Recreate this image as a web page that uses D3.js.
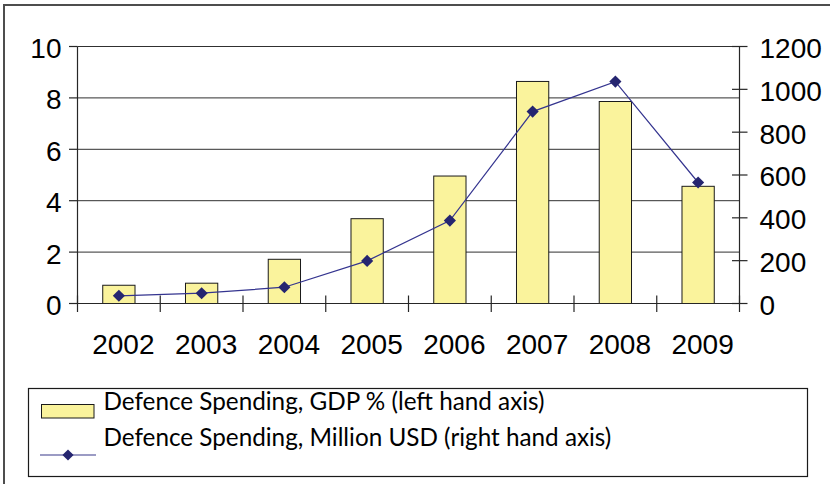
<!DOCTYPE html>
<html>
<head>
<meta charset="utf-8">
<script src="https://cdn.jsdelivr.net/npm/d3@7"></script>
<style>
  html, body { margin: 0; padding: 0; background: #fff; }
  svg { display: block; }
</style>
</head>
<body>
<svg id="chart" width="830" height="484"></svg>
<script>
// Defence spending by year
const years = ["2002", "2003", "2004", "2005", "2006", "2007", "2008", "2009"];
const gdpShare = [0.71, 0.79, 1.72, 3.30, 4.96, 8.64, 7.86, 4.56];          // % of GDP (left axis)
const spendingMusd = [36, 48, 76, 199, 387, 896, 1036, 565];               // million USD (right axis)
const leftTicks = [0, 2, 4, 6, 8, 10];
const rightTicks = [0, 200, 400, 600, 800, 1000, 1200];
const legendLabels = [
  "Defence Spending, GDP % (left hand axis)",
  "Defence Spending, Million USD (right hand axis)"
];

const svg = d3.select("#chart");
const plot = { left: 77.5, right: 739.5, top: 46.5, bottom: 303.5 };

const x = d3.scaleBand().domain(years).range([plot.left, plot.right]).padding(0);
const yL = d3.scaleLinear().domain([0, 10]).range([plot.bottom, plot.top]);
const yR = d3.scaleLinear().domain([0, 1200]).range([plot.bottom, plot.top]);
const barW = x.bandwidth() * 0.39;
const cx = d => x(d) + x.bandwidth() / 2;

const axisFont = "'Liberation Sans', Arial, sans-serif";
const ink = "#262626";

// outer chart frame
svg.append("rect")
  .attr("x", 4).attr("y", 5).attr("width", 1000).attr("height", 1000)
  .attr("fill", "none").attr("stroke", "#4d4d4d").attr("stroke-width", 2);

// horizontal gridlines from the left axis
svg.append("g").selectAll("line").data(leftTicks.filter(t => t > 0)).join("line")
  .attr("x1", plot.left).attr("x2", plot.right)
  .attr("y1", d => yL(d)).attr("y2", d => yL(d))
  .attr("stroke", "#303030").attr("stroke-width", 1);

// bars
svg.append("g").selectAll("rect").data(years).join("rect")
  .attr("x", (d, i) => cx(d) - barW / 2)
  .attr("y", (d, i) => yL(gdpShare[i]))
  .attr("width", barW)
  .attr("height", (d, i) => plot.bottom - yL(gdpShare[i]))
  .attr("fill", "#faf39c")
  .attr("stroke", "#1a1a1a").attr("stroke-width", 1);

// axes lines
const axes = svg.append("g").attr("stroke", ink).attr("stroke-width", 1.2);
axes.append("line").attr("x1", plot.left).attr("x2", plot.left).attr("y1", plot.top).attr("y2", plot.bottom);
axes.append("line").attr("x1", plot.right).attr("x2", plot.right).attr("y1", plot.top).attr("y2", plot.bottom);
axes.append("line").attr("x1", plot.left).attr("x2", plot.right).attr("y1", plot.bottom).attr("y2", plot.bottom);

// left ticks + labels
const gl = svg.append("g");
gl.selectAll("line").data(leftTicks).join("line")
  .attr("x1", plot.left - 8.5).attr("x2", plot.left)
  .attr("y1", d => yL(d)).attr("y2", d => yL(d))
  .attr("stroke", ink).attr("stroke-width", 1.2);
gl.selectAll("text").data(leftTicks).join("text")
  .attr("x", plot.left - 16).attr("y", d => yL(d)).attr("dy", "0.41em")
  .attr("text-anchor", "end")
  .attr("font-family", axisFont).attr("font-size", 28).attr("fill", "#000")
  .text(d => d);

// right ticks + labels
const gr = svg.append("g");
gr.selectAll("line").data(rightTicks).join("line")
  .attr("x1", plot.right - 7.5).attr("x2", plot.right + 8)
  .attr("y1", d => yR(d)).attr("y2", d => yR(d))
  .attr("stroke", ink).attr("stroke-width", 1.2);
gr.selectAll("text").data(rightTicks).join("text")
  .attr("x", plot.right + 20).attr("y", d => yR(d)).attr("dy", "0.41em")
  .attr("text-anchor", "start")
  .attr("font-family", axisFont).attr("font-size", 28).attr("fill", "#000")
  .text(d => d);

// category ticks and year labels
const bounds = years.map(d => x(d)).concat([plot.right]);
svg.append("g").selectAll("line").data(bounds).join("line")
  .attr("x1", d => d).attr("x2", d => d)
  .attr("y1", plot.bottom - 8).attr("y2", plot.bottom + 8.5)
  .attr("stroke", ink).attr("stroke-width", 1.2);
svg.append("g").selectAll("text").data(years).join("text")
  .attr("x", d => cx(d) + 4.5).attr("y", plot.bottom + 50)
  .attr("text-anchor", "middle")
  .attr("font-family", axisFont).attr("font-size", 28).attr("fill", "#000")
  .text(d => d);

// spending line on the right axis
const line = d3.line().x((d, i) => cx(years[i])).y(d => yR(d));
svg.append("path").datum(spendingMusd)
  .attr("d", line).attr("fill", "none")
  .attr("stroke", "#34348f").attr("stroke-width", 1.2);
const diamond = d3.symbol(d3.symbolSquare, 74);
svg.append("g").selectAll("path").data(spendingMusd).join("path")
  .attr("d", diamond)
  .attr("transform", (d, i) => `translate(${cx(years[i])},${yR(d)}) rotate(45)`)
  .attr("fill", "#252570");

// legend
const lg = svg.append("g");
lg.append("rect").attr("x", 28.5).attr("y", 388.5).attr("width", 779).attr("height", 88)
  .attr("fill", "#fff").attr("stroke", "#1a1a1a").attr("stroke-width", 1.2);
lg.append("rect").attr("x", 41.5).attr("y", 404.5).attr("width", 52.5).attr("height", 13.5)
  .attr("fill", "#faf39c").attr("stroke", "#1a1a1a").attr("stroke-width", 1);
lg.append("line").attr("x1", 40).attr("x2", 96).attr("y1", 455).attr("y2", 455)
  .attr("stroke", "#7a7ab0").attr("stroke-width", 1.5);
lg.append("path").attr("d", d3.symbol(d3.symbolSquare, 62))
  .attr("transform", "translate(68,455) rotate(45)").attr("fill", "#252570");

const legendFont = "Lato, 'Open Sans', sans-serif";
const lt = lg.selectAll("text.lbl").data(legendLabels).join("text")
  .attr("class", "lbl")
  .attr("x", 103.5).attr("y", (d, i) => i === 0 ? 410 : 446)
  .attr("font-family", legendFont).attr("font-size", 20).attr("fill", "#000")
  .text(d => d);
// size the legend type so the longer entry spans its measured width
const w2 = lt.nodes()[1].getComputedTextLength();
const fs = 20 * 508 / w2;
lt.attr("font-size", fs);
</script>
</body>
</html>
